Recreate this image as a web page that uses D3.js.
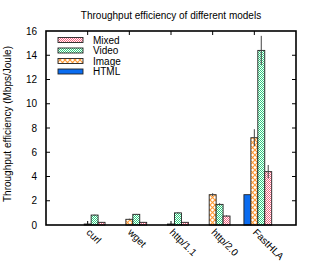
<!DOCTYPE html>
<html><head><meta charset="utf-8">
<script src="https://cdn.jsdelivr.net/npm/d3@7"></script>
<style>body{margin:0;background:#fff}svg text{font-family:"Liberation Sans",Arial,sans-serif}</style>
</head><body>
<script>
const categories = ["curl","wget","http/1.1","http/2.0","FastHLA"];
const htmlVals  = [0, 0, 0, 0, 2.5];
const imageVals = [0.08, 0.47, 0.08, 2.5, 7.2];
const videoVals = [0.82, 0.88, 1.0, 1.7, 14.4];
const mixedVals = [0.22, 0.22, 0.22, 0.74, 4.4];
const htmlErr  = [0, 0, 0, 0, 0.05];
const imageErr = [0.02, 0.05, 0.02, 0.12, 0.7];
const videoErr = [0.03, 0.03, 0.05, 0.1, 1.2];
const mixedErr = [0.03, 0.03, 0.03, 0.06, 0.55];
const yTicks = [0,2,4,6,8,10,12,14,16];
const seriesNames = ["HTML","Image","Video","Mixed"];

const W=316,H=273, L=46,R=296,T=31,B=225;
const svg=d3.select("body").append("svg").attr("width",W).attr("height",H);
const defs=svg.append("defs");
// patterns
const pMixed=defs.append("pattern").attr("id","pMixed").attr("width",2).attr("height",2).attr("patternUnits","userSpaceOnUse");
pMixed.append("rect").attr("width",2).attr("height",2).attr("fill","#fff");
pMixed.append("rect").attr("width",1).attr("height",1).attr("fill","#f4607e");
pMixed.append("rect").attr("x",1).attr("y",1).attr("width",1).attr("height",1).attr("fill","#f4607e");
const pVideo=defs.append("pattern").attr("id","pVideo").attr("width",2).attr("height",2).attr("patternUnits","userSpaceOnUse");
pVideo.append("rect").attr("width",2).attr("height",2).attr("fill","#fff");
pVideo.append("rect").attr("width",1).attr("height",1).attr("fill","#2ecc7f");
pVideo.append("rect").attr("x",1).attr("y",1).attr("width",1).attr("height",1).attr("fill","#2ecc7f");
const pImage=defs.append("pattern").attr("id","pImage").attr("width",5).attr("height",5).attr("patternUnits","userSpaceOnUse");
pImage.append("rect").attr("width",5).attr("height",5).attr("fill","#fff");
pImage.append("path").attr("d","M0,0L5,5M5,0L0,5").attr("stroke","#ff9a33").attr("stroke-width",1.1);
const fills={HTML:"#0a6cf0",Image:"url(#pImage)",Video:"url(#pVideo)",Mixed:"url(#pMixed)"};
const vals={HTML:htmlVals,Image:imageVals,Video:videoVals,Mixed:mixedVals};
const errs={HTML:htmlErr,Image:imageErr,Video:videoErr,Mixed:mixedErr};

const x=d3.scaleLinear().domain([0,categories.length+1]).range([L,R]);
const y=d3.scaleLinear().domain([0,16]).range([B,T]);
const bw=(x(1)-x(0))/6;

// title
svg.append("text").attr("x",171).attr("y",18.5).attr("text-anchor","middle").attr("font-size",10).text("Throughput efficiency of different models");
// y label
svg.append("text").attr("transform","translate(11,124) rotate(-90)").attr("text-anchor","middle").attr("font-size",10).text("Throughput efficiency (Mbps/Joule)");

// y axis ticks
const yAx=d3.axisLeft(y).tickValues(yTicks).tickSize(0).tickPadding(9);
const gy=svg.append("g").attr("transform",`translate(${L},0)`).call(yAx);
gy.select(".domain").remove();
gy.selectAll("text").attr("font-size",10).attr("fill","#000").attr("font-family","Liberation Sans, Arial, sans-serif");
// inward ticks
svg.selectAll(".ytl").data(yTicks.slice(1,-1)).enter().append("line").attr("x1",L).attr("x2",L+4).attr("y1",d=>y(d)).attr("y2",d=>y(d)).attr("stroke","#000");
svg.selectAll(".ytr").data(yTicks.slice(1,-1)).enter().append("line").attr("x1",R-4).attr("x2",R).attr("y1",d=>y(d)).attr("y2",d=>y(d)).attr("stroke","#000");
svg.selectAll(".xtt").data(categories).enter().append("line").attr("x1",(d,i)=>x(i+1)).attr("x2",(d,i)=>x(i+1)).attr("y1",T).attr("y2",T+4).attr("stroke","#000");
svg.selectAll(".xtb").data(categories).enter().append("line").attr("x1",(d,i)=>x(i+1)).attr("x2",(d,i)=>x(i+1)).attr("y1",B).attr("y2",B-4).attr("stroke","#000");

// bars
seriesNames.forEach((s,k)=>{
  const g=svg.append("g");
  g.selectAll("rect").data(vals[s]).enter().append("rect")
    .attr("x",(d,i)=>x(i+1)+(k-1.5)*bw).attr("width",bw)
    .attr("y",d=>y(d)).attr("height",d=>B-y(d))
    .attr("fill",fills[s]).attr("stroke",d=>d>0?"#222":"none").attr("stroke-width",0.9);
  g.selectAll("line").data(vals[s]).enter().filter((d,i)=>errs[s][i]>0).append("line")
    .attr("x1",(d,i)=>x(i+1)+(k-1)*bw).attr("x2",(d,i)=>x(i+1)+(k-1)*bw)
    .attr("y1",(d,i)=>y(d+errs[s][i])).attr("y2",(d,i)=>y(Math.max(0,d-errs[s][i])))
    .attr("stroke","#444").attr("stroke-width",1);
});

// frame
svg.append("rect").attr("x",L).attr("y",T).attr("width",R-L).attr("height",B-T).attr("fill","none").attr("stroke","#000").attr("stroke-width",1.6);

// x labels
svg.selectAll(".xl").data(categories).enter().append("text")
  .attr("transform",(d,i)=>`translate(${x(i+1)-2},${B+8}) rotate(45)`)
  .attr("font-size",10).text(d=>d);

// legend
const legOrder=["Mixed","Video","Image","HTML"];
const lg=svg.append("g");
legOrder.forEach((s,i)=>{
  const cy=40+i*10.5;
  lg.append("rect").attr("x",58).attr("y",cy-2.5).attr("width",25).attr("height",5).attr("fill",fills[s]).attr("stroke","#222").attr("stroke-width",0.9);
  lg.append("text").attr("x",93).attr("y",cy+3.6).attr("font-size",10).text(s);
});
</script>
</body></html>
